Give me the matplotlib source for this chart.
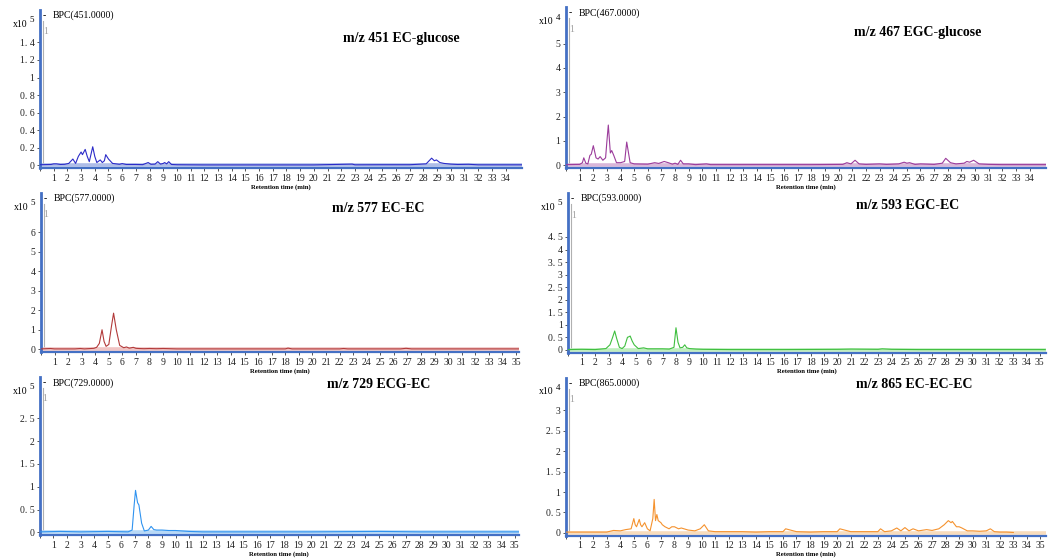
import matplotlib.pyplot as plt

# --- data (intensity in units of the "x10^n" label) ---
t451 = [0, 0.8, 1.0, 1.2, 1.5, 1.8, 2.1, 2.4, 2.6, 2.8, 3.0, 3.1, 3.3, 3.45, 3.6, 3.85, 4.0, 4.15,
        4.4, 4.55, 4.7, 4.8, 5.0, 5.3, 5.8, 6.0, 6.3, 7.0, 7.5, 7.9, 8.1, 8.4, 8.6, 8.8, 9.0, 9.1,
        9.25, 9.4, 9.6, 10, 12, 15, 20, 22.8, 23.0, 25, 27, 28.2, 28.6, 28.8, 28.95, 29.2, 29.5,
        30, 30.5, 31.3, 32, 35.2]
v451 = [0.005, 0.008, 0.015, 0.015, 0.008, 0.01, 0.02, 0.07, 0.02, 0.10, 0.15, 0.12, 0.18, 0.10,
        0.04, 0.21, 0.10, 0.03, 0.06, 0.03, 0.05, 0.12, 0.07, 0.02, 0.01, 0.018, 0.008, 0.008,
        0.006, 0.03, 0.01, 0.012, 0.04, 0.012, 0.02, 0.03, 0.015, 0.04, 0.008, 0.005, 0.003,
        0.003, 0.003, 0.012, 0.004, 0.005, 0.005, 0.015, 0.08, 0.05, 0.06, 0.03, 0.02, 0.012,
        0.008, 0.01, 0.004, 0.004]

t467 = [0, 1.0, 1.2, 1.3, 1.45, 1.6, 1.75, 1.85, 2.0, 2.2, 2.35, 2.5, 2.7, 2.9, 3.0, 3.1, 3.25,
        3.35, 3.5, 3.7, 4.0, 4.3, 4.45, 4.7, 5.0, 6.0, 6.5, 6.8, 7.2, 7.5, 7.8, 8.0, 8.2, 8.4,
        8.6, 9.0, 9.5, 10.3, 10.6, 12, 15, 18, 20.3, 20.6, 20.9, 21.2, 21.5, 22, 23, 23.5, 24.4,
        24.8, 25.0, 25.2, 25.6, 26, 27, 27.6, 27.85, 28.2, 28.6, 29.2, 29.4, 29.6, 29.9, 30.3,
        31, 32, 35.2]
v467 = [0.02, 0.03, 0.1, 0.3, 0.08, 0.05, 0.4, 0.45, 0.8, 0.3, 0.25, 0.35, 0.2, 0.3, 1.0, 1.65,
        0.5, 0.6, 0.4, 0.1, 0.1, 0.15, 0.95, 0.1, 0.05, 0.04, 0.1, 0.07, 0.15, 0.1, 0.04, 0.08,
        0.03, 0.2, 0.05, 0.05, 0.02, 0.05, 0.02, 0.02, 0.02, 0.02, 0.03, 0.1, 0.05, 0.2, 0.05,
        0.03, 0.05, 0.03, 0.05, 0.12, 0.08, 0.1, 0.03, 0.05, 0.03, 0.08, 0.28, 0.1, 0.05, 0.08,
        0.15, 0.12, 0.2, 0.05, 0.03, 0.02, 0.02]

t577 = [0, 0.7, 1.0, 2.5, 2.9, 3.2, 3.9, 4.1, 4.3, 4.5, 4.65, 4.8, 5.0, 5.2, 5.35, 5.55, 5.8,
        6.1, 6.3, 6.5, 6.6, 6.8, 7.0, 7.2, 7.6, 8.0, 8.5, 9.0, 9.5, 10, 12, 15, 18, 18.2, 18.5,
        22, 22.3, 22.6, 26.5, 26.9, 27.3, 30, 35.2]
v577 = [0.02, 0.04, 0.02, 0.02, 0.04, 0.02, 0.05, 0.1, 0.3, 1.0, 0.4, 0.15, 0.25, 1.2, 1.85,
        1.0, 0.2, 0.08, 0.12, 0.06, 0.07, 0.1, 0.05, 0.04, 0.03, 0.04, 0.03, 0.04, 0.03, 0.02,
        0.02, 0.02, 0.02, 0.06, 0.02, 0.02, 0.04, 0.02, 0.02, 0.05, 0.02, 0.02, 0.02]

t593 = [0, 1.0, 2.0, 2.8, 3.1, 3.3, 3.45, 3.6, 3.8, 4.0, 4.2, 4.4, 4.5, 4.6, 4.75, 4.9, 5.2,
        5.6, 5.9, 6.5, 7.0, 7.5, 7.85, 8.0, 8.15, 8.3, 8.5, 8.65, 8.8, 9.0, 9.5, 10, 12, 16,
        20, 21, 23, 23.3, 24, 26, 30, 35.4]
v593 = [0.01, 0.02, 0.01, 0.05, 0.2, 0.5, 0.75, 0.45, 0.1, 0.05, 0.15, 0.5, 0.52, 0.55, 0.35,
        0.2, 0.05, 0.08, 0.04, 0.04, 0.04, 0.03, 0.1, 0.88, 0.3, 0.08, 0.1, 0.2, 0.08, 0.05,
        0.03, 0.02, 0.01, 0.01, 0.02, 0.03, 0.02, 0.04, 0.02, 0.01, 0.01, 0.01]

t729 = [0, 1.5, 3, 5, 6.5, 6.8, 6.95, 7.05, 7.2, 7.3, 7.5, 7.7, 8.0, 8.2, 8.4, 8.6, 9.0, 9.5,
        10.0, 10.5, 11.0, 12, 15, 20, 25, 28, 30, 35.4]
v729 = [0.01, 0.02, 0.01, 0.02, 0.01, 0.05, 0.6, 0.92, 0.65, 0.6, 0.2, 0.03, 0.05, 0.13, 0.06,
        0.05, 0.05, 0.04, 0.04, 0.03, 0.02, 0.01, 0.01, 0.01, 0.02, 0.01, 0.01, 0.01]

t865 = [0, 1, 2, 3, 3.5, 4, 4.4, 4.8, 5.0, 5.1, 5.2, 5.4, 5.5, 5.6, 5.8, 6.0, 6.2, 6.4, 6.5,
        6.6, 6.7, 6.8, 7.0, 7.1, 7.3, 7.6, 7.8, 8.0, 8.3, 8.5, 9.0, 9.5, 9.9, 10.2, 10.5, 11,
        12, 13, 14, 15, 16, 16.2, 17, 18, 19, 20, 20.2, 21, 22, 23, 23.2, 23.5, 24, 24.4, 24.7,
        25, 25.3, 25.6, 26, 26.6, 27, 27.5, 27.9, 28.2, 28.4, 28.5, 28.8, 29.0, 29.2, 29.6,
        30, 30.5, 31, 31.3, 31.6, 32, 32.5, 33]
v865 = [0.02, 0.02, 0.02, 0.02, 0.06, 0.05, 0.08, 0.1, 0.35, 0.2, 0.15, 0.33, 0.2, 0.15, 0.25,
        0.1, 0.05, 0.35, 0.82, 0.3, 0.45, 0.3, 0.25, 0.2, 0.15, 0.1, 0.15, 0.15, 0.1, 0.12,
        0.07, 0.05, 0.1, 0.2, 0.05, 0.03, 0.03, 0.03, 0.02, 0.03, 0.03, 0.1, 0.03, 0.02, 0.03,
        0.03, 0.1, 0.03, 0.03, 0.03, 0.1, 0.03, 0.05, 0.12, 0.05, 0.13, 0.05, 0.1, 0.05, 0.08,
        0.06, 0.1, 0.2, 0.3, 0.25, 0.28, 0.15, 0.15, 0.12, 0.05, 0.05, 0.04, 0.05, 0.1, 0.03,
        0.02, 0.02, 0.01]

titles = ['m/z 451 EC-glucose', 'm/z 467 EGC-glucose', 'm/z 577 EC-EC',
          'm/z 593 EGC-EC', 'm/z 729 ECG-EC', 'm/z 865 EC-EC-EC']
bpc = ['BPC(451.0000)', 'BPC(467.0000)', 'BPC(577.0000)',
       'BPC(593.0000)', 'BPC(729.0000)', 'BPC(865.0000)']
exps = ['5', '4', '5', '5', '5', '4']
yticks = [[0, 0.2, 0.4, 0.6, 0.8, 1, 1.2, 1.4], [0, 1, 2, 3, 4, 5], [0, 1, 2, 3, 4, 5, 6],
          [0, 0.5, 1, 1.5, 2, 2.5, 3, 3.5, 4, 4.5], [0, 0.5, 1, 1.5, 2, 2.5],
          [0, 0.5, 1, 1.5, 2, 2.5, 3]]
ymax = [1.77, 6.5, 8.0, 6.25, 3.4, 3.8]
xmax = [35.2, 35.2, 35.2, 35.45, 35.3, 35.4]
last_tick = [34, 34, 35, 35, 35, 35]
traces = [(t451, v451), (t467, v467), (t577, v577), (t593, v593), (t729, v729), (t865, v865)]
colors = ['#2b2bc8', '#9b3c9b', '#b23a3a', '#3fbf3f', '#2f93f0', '#f5922e']
bands = ['#aebde8', '#d9b6d9', '#f0c4c4', '#bfeebf', '#b7d9f7', '#f8dcbc']

# axes boxes in figure fractions: left, bottom, width, height
boxes = [(0.0376, 0.699, 0.453, 0.283), (0.532, 0.699, 0.451, 0.288),
         (0.0385, 0.369, 0.449, 0.285), (0.534, 0.368, 0.449, 0.286),
         (0.0375, 0.041, 0.450, 0.283), (0.532, 0.040, 0.451, 0.283)]
title_pos = [(0.75, 0.82), (0.733, 0.84), (0.705, 0.905),
             (0.71, 0.924), (0.707, 0.956), (0.725, 0.956)]

serif = 'Liberation Serif'
axis_blue = '#4470c4'

fig = plt.figure(figsize=(10.64, 5.58), dpi=100)

for i in range(6):
    ax = fig.add_axes(boxes[i])
    t, v = traces[i]
    top = ymax[i]
    ax.set_xlim(0, xmax[i])
    ax.set_ylim(-0.018 * top, top)

    # light baseline band and the trace
    ax.plot([0, xmax[i]], [0, 0], color=bands[i], lw=2.6, solid_capstyle='butt', zorder=2)
    ax.plot(t, v, color=colors[i], lw=0.8, zorder=3)
    # gray start marker line
    ax.plot([0.2, 0.2], [0, 0.93 * top], color='#b0b0b0', lw=0.8, zorder=1)
    ax.text(0.2, 0.86 * top, '1', color='#a0a0a0', fontsize=7, family=serif,
            ha='left', va='center')

    for s in ['top', 'right']:
        ax.spines[s].set_visible(False)
    ax.spines['left'].set_color(axis_blue)
    ax.spines['left'].set_linewidth(2.0)
    ax.spines['bottom'].set_color(axis_blue)
    ax.spines['bottom'].set_linewidth(1.6)

    ax.set_yticks(yticks[i])
    ax.set_yticklabels([('%g' % y).replace('.', '. ') for y in yticks[i]])
    ax.set_xticks(range(0, last_tick[i] + 1))
    ax.set_xticklabels([''] + [str(k) for k in range(1, last_tick[i] + 1)])
    ax.tick_params(axis='both', labelsize=7, length=2.5, width=0.7, color='#555555',
                   pad=1.5, labelcolor='#222222')
    for lab in ax.get_xticklabels() + ax.get_yticklabels():
        lab.set_family(serif)

    ax.set_xlabel('Retention time (min)', fontsize=4.8, family=serif,
                  fontweight='bold', labelpad=1)

    # exponent label and BPC trace name
    ax.text(-0.057, 0.91, 'x10', transform=ax.transAxes, fontsize=7, family=serif,
            ha='left', va='center')
    ax.text(-0.022, 0.935, exps[i], transform=ax.transAxes, fontsize=6.5, family=serif,
            ha='left', va='center')
    ax.text(0.006, 0.965, '-', transform=ax.transAxes, fontsize=7, family=serif,
            ha='left', va='center')
    ax.text(0.026, 0.965, bpc[i], transform=ax.transAxes, fontsize=7, family=serif,
            ha='left', va='center')

    tx, ty = title_pos[i]
    ax.text(tx, ty, titles[i], transform=ax.transAxes, fontsize=10, family=serif,
            fontweight='bold', ha='center', va='center')

fig.savefig('out.png', dpi=100)
